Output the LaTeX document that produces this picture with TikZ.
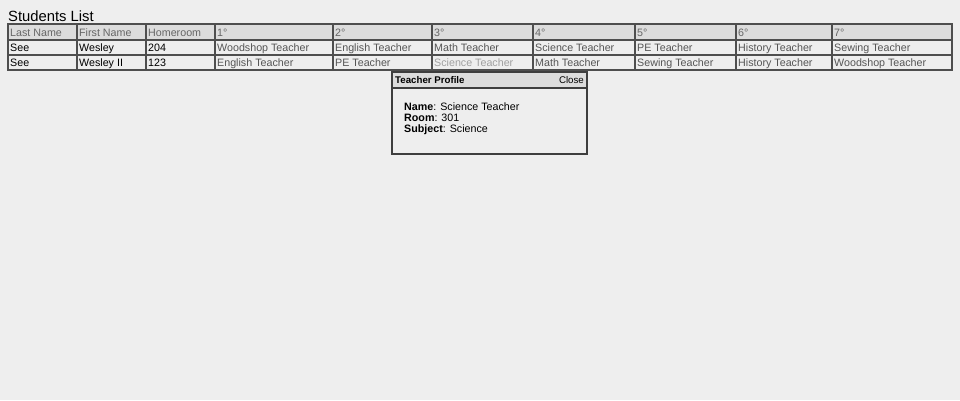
\documentclass[tikz,border=0pt]{standalone}
\usepackage{fontspec}
\setmainfont{Liberation Sans}
\usepackage{tikz}

\definecolor{pagebg}{HTML}{EEEEEE}
\definecolor{headbg}{HTML}{DCDCDC}
\definecolor{gridline}{HTML}{4E4E4E}
\definecolor{headtext}{HTML}{666666}
\definecolor{linktext}{HTML}{555555}
\definecolor{hovertext}{HTML}{A0A0A0}

\tikzset{
  cell/.style={anchor=base west, inner sep=0pt, font=\fontsize{10.7}{12}\selectfont},
  headcell/.style={cell, text=headtext},
  linkcell/.style={cell, text=linktext},
}

\begin{document}
\begin{tikzpicture}[x=1pt, y=-1pt]

  \fill[pagebg] (0,0) rectangle (960,400);
  \useasboundingbox (0,0) rectangle (960,400);

  \node[anchor=base west, inner sep=0pt, font=\fontsize{14.8}{17}\selectfont] (title) at (8,21) {Students List};

  % table
  \fill[headbg] (8,24) rectangle (952,40);
  \draw[gridline, line width=1.5pt] (8,24) rectangle (952,70);
  \draw[gridline, line width=1.2pt] (8,40) -- (952,40);
  \draw[gridline, line width=1.2pt] (8,55) -- (952,55);
  \draw[gridline, line width=1.2pt] (77,24) -- (77,70);
  \draw[gridline, line width=1.2pt] (146,24) -- (146,70);
  \draw[gridline, line width=1.2pt] (215,24) -- (215,70);
  \draw[gridline, line width=1.2pt] (333,24) -- (333,70);
  \draw[gridline, line width=1.2pt] (432,24) -- (432,70);
  \draw[gridline, line width=1.2pt] (533,24) -- (533,70);
  \draw[gridline, line width=1.2pt] (635,24) -- (635,70);
  \draw[gridline, line width=1.2pt] (736,24) -- (736,70);
  \draw[gridline, line width=1.2pt] (832,24) -- (832,70);

  \node[headcell] (lastname) at (10,36) {Last Name};
  \node[headcell] (firstname) at (79,36) {First Name};
  \node[headcell] (homeroom) at (148,36) {Homeroom};
  \node[headcell] (p1) at (217,36) {1°};
  \node[headcell] (p2) at (335,36) {2°};
  \node[headcell] (p3) at (434,36) {3°};
  \node[headcell] (p4) at (535,36) {4°};
  \node[headcell] (p5) at (637,36) {5°};
  \node[headcell] (p6) at (738,36) {6°};
  \node[headcell] (p7) at (834,36) {7°};

  \node[cell] (last1) at (10,51) {See};
  \node[cell] (first1) at (79,51) {Wesley};
  \node[cell] (room1) at (148,51) {204};
  \node[linkcell] (t11) at (217,51) {Woodshop Teacher};
  \node[linkcell] (t12) at (335,51) {English Teacher};
  \node[linkcell] (t13) at (434,51) {Math Teacher};
  \node[linkcell] (t14) at (535,51) {Science Teacher};
  \node[linkcell] (t15) at (637,51) {PE Teacher};
  \node[linkcell] (t16) at (738,51) {History Teacher};
  \node[linkcell] (t17) at (834,51) {Sewing Teacher};

  \node[cell] (last2) at (10,66) {See};
  \node[cell] (first2) at (79,66) {Wesley II};
  \node[cell] (room2) at (148,66) {123};
  \node[linkcell] (t21) at (217,66) {English Teacher};
  \node[linkcell] (t22) at (335,66) {PE Teacher};
  \node[cell, text=hovertext] (t23) at (434,66) {Science Teacher};
  \node[linkcell] (t24) at (535,66) {Math Teacher};
  \node[linkcell] (t25) at (637,66) {Sewing Teacher};
  \node[linkcell] (t26) at (738,66) {History Teacher};
  \node[linkcell] (t27) at (834,66) {Woodshop Teacher};

  % profile popup
  \fill[pagebg] (392,72) rectangle (587,154);
  \fill[headbg] (392,72) rectangle (587,88);
  \draw[gridline!80!black, line width=1.5pt] (392,88) -- (587,88);
  \draw[gridline!80!black, line width=2pt] (392,72) rectangle (587,154);

  \node[anchor=base west, inner sep=0pt, font=\bfseries\fontsize{9.7}{11}\selectfont] (profile) at (395,83.5) {Teacher Profile};
  \node[anchor=base east, inner sep=0pt, font=\fontsize{9.7}{11}\selectfont] (close) at (584,83.5) {Close};

  \node[cell] (name) at (404,110) {\textbf{Name}: Science Teacher};
  \node[cell] (room) at (404,121) {\textbf{Room}: 301};
  \node[cell] (subject) at (404,132) {\textbf{Subject}: Science};

\end{tikzpicture}
\end{document}
